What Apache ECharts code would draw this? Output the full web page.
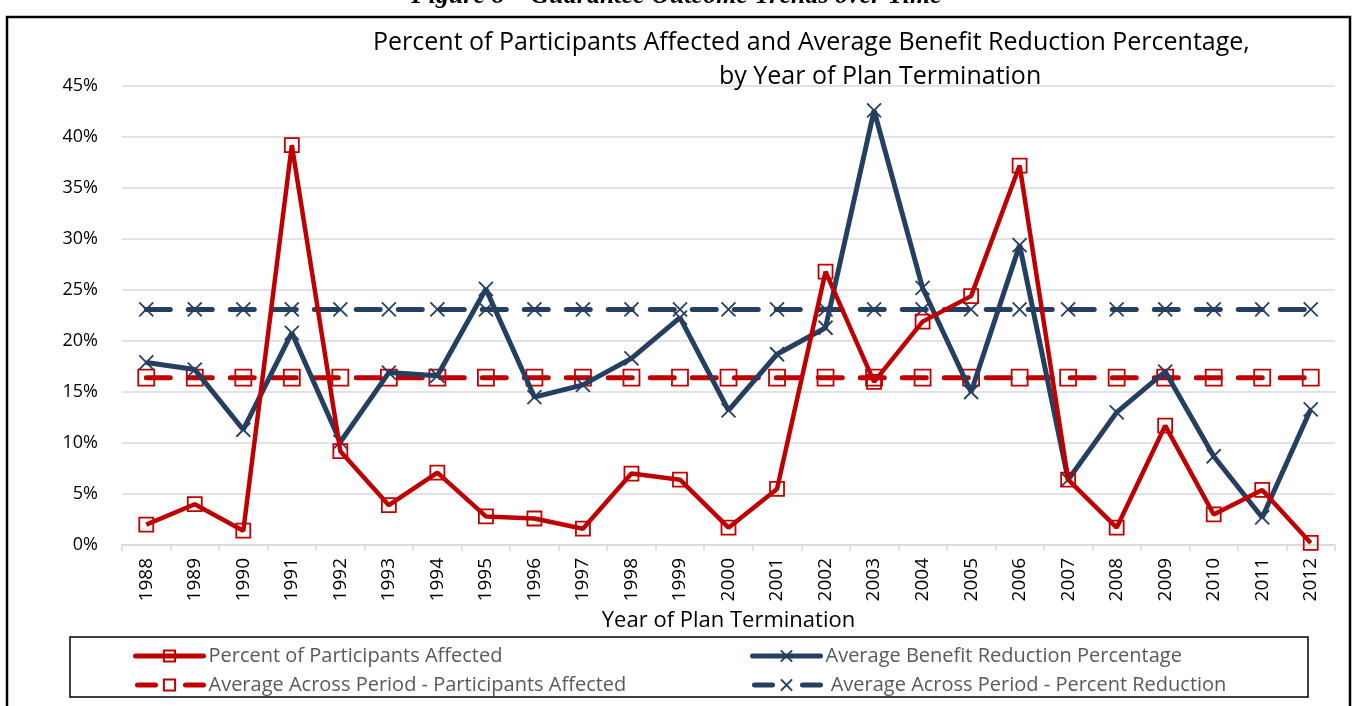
<!DOCTYPE html>
<html>
<head>
<meta charset="utf-8">
<script src="https://cdn.jsdelivr.net/npm/echarts@6/dist/echarts.min.js"></script>
<style>
html, body { margin: 0; padding: 0; background: #fff; }
#chart { width: 1353px; height: 706px; }
</style>
</head>
<body>
<div id="chart"></div>
<script>
// data
var years = ['1988', '1989', '1990', '1991', '1992', '1993', '1994', '1995', '1996', '1997',
	'1998', '1999', '2000', '2001', '2002', '2003', '2004', '2005', '2006', '2007',
	'2008', '2009', '2010', '2011', '2012'];
var pctAffected = [2.0, 4.0, 1.4, 39.2, 9.2, 3.9, 7.1, 2.8, 2.6, 1.6,
	7.0, 6.4, 1.7, 5.5, 26.8, 16.0, 21.9, 24.4, 37.2, 6.4,
	1.7, 11.7, 3.0, 5.4, 0.2];
var avgReduction = [17.9, 17.2, 11.3, 20.8, 10.1, 16.9, 16.6, 25.1, 14.5, 15.7,
	18.3, 22.3, 13.2, 18.7, 21.3, 42.6, 25.2, 15.0, 29.4, 6.4,
	13.0, 17.0, 8.7, 2.7, 13.3];
var avgAffectedPeriod = [16.4, 16.4, 16.4, 16.4, 16.4, 16.4, 16.4, 16.4, 16.4, 16.4,
	16.4, 16.4, 16.4, 16.4, 16.4, 16.4, 16.4, 16.4, 16.4, 16.4,
	16.4, 16.4, 16.4, 16.4, 16.4];
var avgReductionPeriod = [23.1, 23.1, 23.1, 23.1, 23.1, 23.1, 23.1, 23.1, 23.1, 23.1,
	23.1, 23.1, 23.1, 23.1, 23.1, 23.1, 23.1, 23.1, 23.1, 23.1,
	23.1, 23.1, 23.1, 23.1, 23.1];
var names = ['Percent of Participants Affected', 'Average Benefit Reduction Percentage',
	'Average Across Period - Participants Affected', ' Average Across Period - Percent Reduction'];

var RED = '#c00000';
var BLUE = '#253f61';
var FONT = 'Open Sans';
var crossPath = 'path://M0,0L10,10M10,0L0,10';

var chart = echarts.init(document.getElementById('chart'));

function legendAt(name, left, top, dashed) {
	return {
		data: [name],
		left: left,
		top: top,
		itemWidth: 68,
		itemHeight: 14,
		selectedMode: false,
		lineStyle: { width: 5, cap: 'round', type: dashed ? [18, 30] : 'solid', dashOffset: dashed ? -2 : 0 },
		textStyle: { fontFamily: FONT, fontSize: 20, color: '#595959' }
	};
}

var option = {
	backgroundColor: '#fff',
	animation: false,
	title: [{
		text: 'Percent of Participants Affected and Average Benefit Reduction Percentage,',
		left: 368, top: 25,
		textStyle: { fontFamily: FONT, fontSize: 25, fontWeight: 'normal', color: '#000' }
	}, {
		text: 'by Year of Plan Termination',
		left: 714, top: 59,
		textStyle: { fontFamily: FONT, fontSize: 25, fontWeight: 'normal', color: '#000' }
	}],
	graphic: [{
		type: 'text',
		left: 'center',
		top: -17,
		style: {
			text: 'Figure 8 \u2013 Guarantee Outcome Trends over Time',
			font: 'italic bold 26px "Liberation Serif"',
			fill: '#000'
		}
	}, {
		type: 'rect',
		shape: { x: 7, y: 17, width: 1343, height: 720 },
		style: { fill: 'none', stroke: '#000', lineWidth: 2.5 }
	}, {
		type: 'rect',
		shape: { x: 70, y: 637, width: 1238, height: 60 },
		style: { fill: 'none', stroke: '#000', lineWidth: 1.5 }
	}],
	legend: [
		legendAt(names[0], 128, 641, false),
		legendAt(names[1], 745, 641, false),
		legendAt(names[2], 128, 670, true),
		legendAt(names[3], 745, 670, true)
	],
	grid: { left: 122, right: 18, top: 86, bottom: 161 },
	xAxis: {
		type: 'category',
		data: years,
		boundaryGap: true,
		name: 'Year of Plan Termination',
		nameLocation: 'middle',
		nameGap: 63,
		nameTextStyle: { fontFamily: FONT, fontSize: 22, color: '#000' },
		axisLine: { lineStyle: { color: '#d9d9d9', width: 1.5 } },
		axisTick: { show: true, length: 6, lineStyle: { color: '#d9d9d9', width: 1.5 } },
		axisLabel: {
			rotate: 90,
			margin: 13,
			fontFamily: FONT,
			fontSize: 19,
			color: '#000'
		}
	},
	yAxis: {
		type: 'value',
		min: 0,
		max: 45,
		interval: 5,
		axisLine: { show: false },
		axisTick: { show: false },
		axisLabel: {
			margin: 24,
			fontFamily: FONT,
			fontSize: 18,
			color: '#000',
			formatter: '{value}%'
		},
		splitLine: { lineStyle: { color: '#d9d9d9', width: 1.5 } }
	},
	series: [{
		name: names[0],
		type: 'line',
		data: pctAffected,
		symbol: 'rect',
		symbolSize: 14,
		lineStyle: { color: RED, width: 4.5 },
		itemStyle: { color: 'rgba(255,255,255,0)', borderColor: RED, borderWidth: 1.8 },
		z: 4
	}, {
		name: names[1],
		type: 'line',
		data: avgReduction,
		symbol: crossPath,
		symbolSize: 14,
		lineStyle: { color: BLUE, width: 5 },
		itemStyle: { color: 'rgba(255,255,255,0)', borderColor: BLUE, borderWidth: 1.8 },
		z: 3
	}, {
		name: names[2],
		type: 'line',
		data: avgAffectedPeriod,
		symbol: 'rect',
		symbolSize: 16,
		lineStyle: { color: RED, width: 5, type: [24, 18], cap: 'round' },
		itemStyle: { color: 'rgba(255,255,255,0)', borderColor: RED, borderWidth: 1.8 },
		z: 2
	}, {
		name: names[3],
		type: 'line',
		data: avgReductionPeriod,
		symbol: crossPath,
		symbolSize: 14,
		lineStyle: { color: BLUE, width: 5, type: [24, 18], cap: 'round' },
		itemStyle: { color: 'rgba(255,255,255,0)', borderColor: BLUE, borderWidth: 1.8 },
		z: 2
	}]
};

chart.setOption(option);
window.onresize = chart.resize;
</script>
</body>
</html>
